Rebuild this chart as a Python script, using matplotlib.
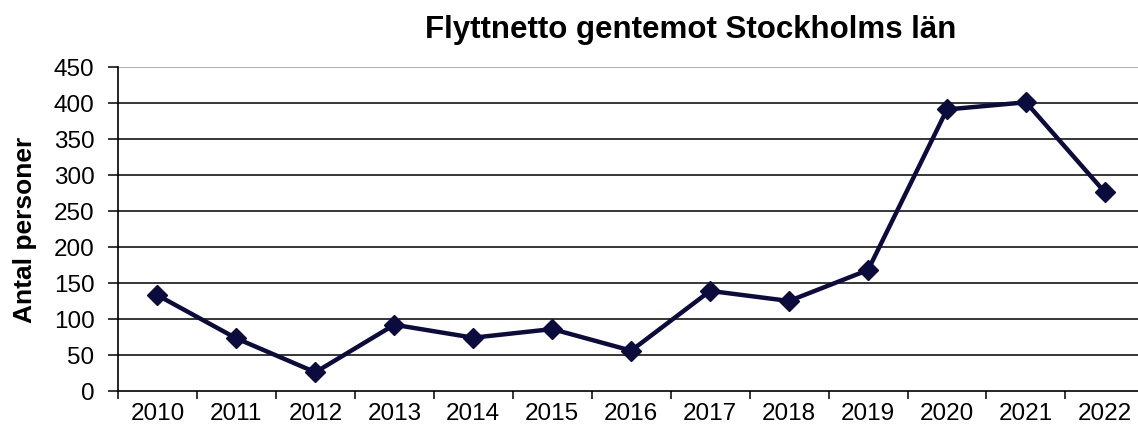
import numpy as np
import matplotlib.pyplot as plt
from matplotlib.ticker import FixedLocator, NullFormatter

# === Data ===
years = ['2010', '2011', '2012', '2013', '2014', '2015', '2016',
         '2017', '2018', '2019', '2020', '2021', '2022']
netto = [133, 73, 26, 92, 74, 86, 56, 139, 125, 168, 391, 401, 276]
yticks = [0, 50, 100, 150, 200, 250, 300, 350, 400, 450]

plt.rcParams['font.family'] = ['Liberation Sans', 'DejaVu Sans']

fig = plt.figure(figsize=(11.38, 4.35), dpi=100)
ax = fig.add_axes([0.1037, 0.0989, 0.9019, 0.7448])

x = np.arange(len(years))
ax.plot(x, netto, color='#0b0b3d', lw=3.2, marker='D', ms=10, zorder=3)

# === Axes ===
ax.set_xlim(-0.5, len(years) - 0.5)
ax.set_ylim(0, 450)
ax.set_yticks(yticks)
ax.set_yticklabels([str(v) for v in yticks], fontsize=17.5)
for v in yticks[1:]:
    ax.axhline(v, color='#999999' if v == 450 else 'black', lw=1.1, zorder=1)

# category labels centred, ticks on the boundaries
ax.set_xticks(x)
ax.set_xticklabels(years, fontsize=17.5)
ax.tick_params(axis='x', which='major', length=0, pad=8)
ax.xaxis.set_minor_locator(FixedLocator(np.arange(-0.5, len(years), 1.0)))
ax.xaxis.set_minor_formatter(NullFormatter())
ax.tick_params(axis='x', which='minor', length=6, width=1.1, direction='out')
ax.tick_params(axis='y', length=7, width=1.1, direction='out', pad=10)

for s in ['top', 'right']:
    ax.spines[s].set_visible(False)
for s in ['left', 'bottom']:
    ax.spines[s].set_linewidth(1.2)

ax.set_ylabel('Antal personer', fontsize=19, fontweight='bold', labelpad=12)
fig.text(0.607, 0.93, 'Flyttnetto gentemot Stockholms län', ha='center', va='center',
         fontsize=22.5, fontweight='bold')

fig.savefig('out.png', dpi=100)
